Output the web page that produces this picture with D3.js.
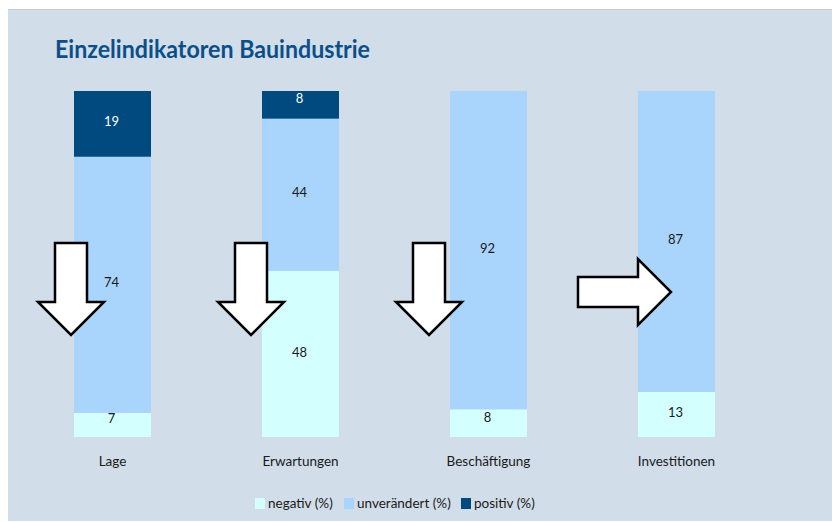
<!DOCTYPE html>
<html><head><meta charset="utf-8">
<script src="https://cdn.jsdelivr.net/npm/d3@7/dist/d3.min.js"></script>
<style>body{margin:0;background:#fff}svg{display:block}</style>
</head><body>
<svg id="c" width="832" height="522"></svg>
<script>
const title = "Einzelindikatoren Bauindustrie";
const categories = ["Lage", "Erwartungen", "Beschäftigung", "Investitionen"];
const seriesNames = ["negativ (%)", "unverändert (%)", "positiv (%)"];
const negativ = [7, 48, 8, 13];
const unveraendert = [74, 44, 92, 87];
const positiv = [19, 8, 0, 0];
const arrows = ["down", "down", "down", "right"];
const colors = ["#d4ffff", "#a9d5fc", "#004a80"];

const svg = d3.select("#c");
const FONT = "Lato, 'Open Sans', sans-serif";
svg.append("rect").attr("x", 8).attr("y", 9).attr("width", 824).attr("height", 512).attr("fill", "#d1dde8");
svg.append("line").attr("x1", 8).attr("x2", 832).attr("y1", 9.5).attr("y2", 9.5).attr("stroke", "#c2ccd6");

svg.append("text").attr("x", 55).attr("y", 58).attr("fill", "#0b4f8a")
  .attr("font-family", FONT).attr("font-weight", "bold").attr("font-size", 24).text(title)
  .attr("textLength", 315).attr("lengthAdjust", "spacingAndGlyphs");

const x2 = d3.scalePoint().domain(categories).range([74, 638]);
const bw = 77;
const y = d3.scaleLinear().domain([0, 100]).range([437, 91]);

const data = categories.map((c, i) => ({cat: c, negativ: negativ[i], unv: unveraendert[i], pos: positiv[i]}));
const stack = d3.stack().keys(["negativ", "unv", "pos"])(data);

const g = svg.append("g");
stack.forEach((layer, li) => {
  layer.forEach((d) => {
    const v = d[1] - d[0];
    if (v <= 0) return;
    const cat = d.data.cat;
    const x0 = x2(cat);
    g.append("rect").attr("x", x0).attr("width", bw)
      .attr("y", y(d[1])).attr("height", y(d[0]) - y(d[1])).attr("fill", colors[li]);
    const h = y(d[0]) - y(d[1]);
    const mid = (y(d[0]) + y(d[1])) / 2 - (h < 30 ? 6 : 2);
    g.append("text").attr("x", x0 + bw / 2 - 1).attr("y", mid).attr("dy", "0.35em")
      .attr("text-anchor", "middle").attr("font-family", FONT).attr("font-size", 13)
      .attr("fill", li === 2 ? "#ffffff" : "#1a1a1a").text(v);
  });
});

// category labels
categories.forEach(c => {
  svg.append("text").attr("x", x2(c) + bw / 2).attr("y", 466).attr("text-anchor", "middle")
    .attr("font-family", FONT).attr("font-size", 13.5).attr("fill", "#1a1a1a").text(c);
});

// arrows
const arrowOffsets = [-3, -11, -21, -60];
categories.forEach((c, i) => {
  let pts;
  if (arrows[i] === "down") {
    const cx = x2(c) + arrowOffsets[i];
    pts = [[cx - 16, 243], [cx + 16, 243], [cx + 16, 302], [cx + 33, 302], [cx, 335], [cx - 33, 302], [cx - 16, 302]];
  } else {
    const tip = x2(c) + 33, cy = 292;
    pts = [[578, cy - 15], [tip - 33, cy - 15], [tip - 33, cy - 33], [tip, cy], [tip - 33, cy + 33], [tip - 33, cy + 15], [578, cy + 15]];
  }
  svg.append("polygon").attr("points", pts.map(p => p.join(",")).join(" "))
    .attr("fill", "#ffffff").attr("stroke", "#000").attr("stroke-width", 2.5).attr("stroke-linejoin", "miter");
});

// legend
const lx = [255, 344, 461];
seriesNames.forEach((n, i) => {
  svg.append("rect").attr("x", lx[i]).attr("y", 498).attr("width", 10).attr("height", 11).attr("fill", colors[i]);
  svg.append("text").attr("x", lx[i] + 13).attr("y", 508).attr("font-family", FONT).attr("font-size", 13.5)
    .attr("fill", "#1a1a1a").text(n);
});
</script>
</body></html>
